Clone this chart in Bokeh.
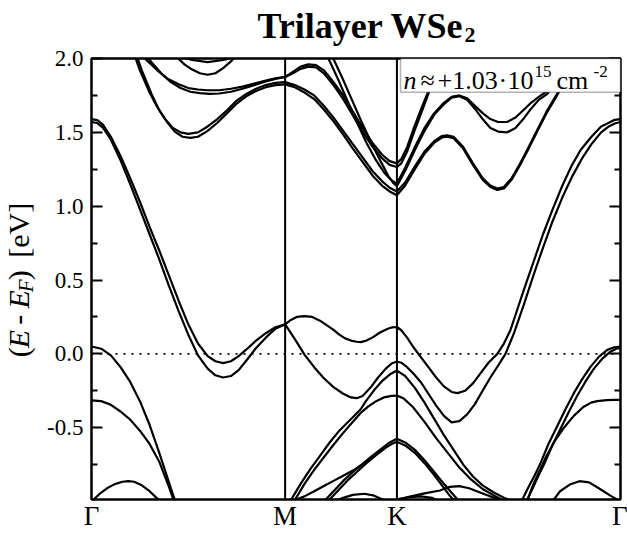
from bokeh.plotting import figure
from bokeh.layouts import column, row
from bokeh.models import (Range1d, FixedTicker, LinearAxis, Span, BoxAnnotation,
                          Label, PrintfTickFormatter, CustomJSTickFormatter)
from bokeh.core.properties import value
from bokeh.embed import file_html
from bokeh.resources import INLINE
import math

# ---------------- data ----------------
kpath_pos = [0.0, 1.0, 1.5774, 2.7321]
kpath_labels = ["Γ", "M", "K", "Γ"]
e_major = [-0.5, 0.0, 0.5, 1.0, 1.5, 2.0]
e_minor = [-0.75, -0.25, 0.25, 0.75, 1.25, 1.75]
e_min, e_max = -0.986, 2.0
fermi_level = 0.0
title_main, title_sub = "Trilayer WSe", "2"
ylabel_parts = ["(", "E", "-", "E", "F", ")", "[eV]"]
density_parts = ["n", "≈", "+1.03", "·", "10", "15", "cm", "-2"]

# bands as (k, E[eV])
A_u = [(0,1.59),(0.03,1.583),(0.06,1.55),(0.10,1.47),(0.15,1.34),(0.20,1.19),(0.25,1.03),(0.30,0.86),(0.35,0.70),(0.40,0.53),(0.45,0.36),(0.50,0.20),(0.55,0.07),(0.60,-0.015),(0.64,-0.05),(0.68,-0.063),(0.72,-0.05),(0.76,-0.015),(0.80,0.03),(0.85,0.09),(0.90,0.14),(0.95,0.18),(1.0,0.20)]
A_l = [(0,1.57),(0.03,1.563),(0.06,1.53),(0.10,1.45),(0.15,1.31),(0.20,1.15),(0.25,0.98),(0.30,0.81),(0.35,0.64),(0.40,0.46),(0.45,0.29),(0.50,0.13),(0.55,-0.01),(0.60,-0.10),(0.64,-0.145),(0.68,-0.16),(0.72,-0.15),(0.76,-0.11),(0.80,-0.045),(0.85,0.04),(0.90,0.11),(0.95,0.17),(1.0,0.20)]
B_l = [(0,0.05),(0.05,0.035),(0.10,-0.01),(0.15,-0.09),(0.20,-0.19),(0.25,-0.32),(0.30,-0.48),(0.35,-0.67),(0.40,-0.87),(0.44,-1.03)]
C_l = [(0,-0.315),(0.05,-0.32),(0.10,-0.345),(0.15,-0.39),(0.20,-0.445),(0.25,-0.52),(0.30,-0.61),(0.35,-0.73),(0.40,-0.90),(0.44,-1.05)]
D_l = [(0,-1.0),(0.04,-0.95),(0.08,-0.91),(0.12,-0.882),(0.16,-0.866),(0.19,-0.862),(0.22,-0.866),(0.26,-0.89),(0.30,-0.93),(0.34,-0.98),(0.37,-1.02)]
E_u = [(0.22,2.03),(0.25,1.92),(0.30,1.77),(0.34,1.67),(0.38,1.59),(0.42,1.53),(0.46,1.50),(0.50,1.49),(0.55,1.50),(0.60,1.54),(0.65,1.59),(0.70,1.65),(0.75,1.715),(0.80,1.76),(0.85,1.795),(0.90,1.82),(0.95,1.835),(1.0,1.84)]
E_l = [(0.23,2.03),(0.26,1.92),(0.31,1.76),(0.35,1.65),(0.39,1.57),(0.43,1.505),(0.47,1.47),(0.51,1.462),(0.55,1.47),(0.60,1.51),(0.65,1.565),(0.70,1.63),(0.75,1.695),(0.80,1.745),(0.85,1.78),(0.90,1.805),(0.95,1.82),(1.0,1.825)]
F_u = [(0.26,2.02),(0.30,1.97),(0.34,1.92),(0.39,1.865),(0.45,1.825),(0.50,1.80),(0.55,1.79),(0.60,1.785),(0.66,1.785),(0.72,1.795),(0.78,1.81),(0.84,1.83),(0.90,1.85),(0.95,1.865),(1.0,1.875)]
F_l = [(0.28,2.02),(0.32,1.96),(0.36,1.90),(0.41,1.84),(0.46,1.80),(0.51,1.775),(0.56,1.765),(0.61,1.76),(0.66,1.763),(0.72,1.775),(0.78,1.795),(0.84,1.82),(0.90,1.845),(0.95,1.862),(1.0,1.875)]
G_1 = [(0.44,2.01),(0.48,1.96),(0.52,1.925),(0.56,1.90),(0.60,1.89),(0.64,1.90),(0.68,1.935),(0.72,1.98),(0.74,2.01)]
G_2 = [(0.46,2.01),(0.52,1.99),(0.60,1.975),(0.68,1.99),(0.75,2.01)]
H_b = [(1.0,0.20),(1.03,0.23),(1.06,0.25),(1.10,0.256),(1.14,0.25),(1.18,0.225),(1.22,0.19),(1.25,0.162),(1.28,0.13),(1.31,0.105),(1.34,0.09),(1.37,0.082),(1.39,0.08),(1.42,0.09),(1.45,0.11),(1.49,0.145),(1.53,0.17),(1.555,0.18),(1.577,0.182),(1.60,0.16),(1.63,0.11),(1.66,0.05),(1.70,-0.02),(1.74,-0.09),(1.78,-0.16),(1.82,-0.22),(1.86,-0.258),(1.89,-0.266),(1.93,-0.25),(1.97,-0.20),(2.01,-0.13),(2.05,-0.06),(2.096,0.0),(2.13,0.07),(2.164,0.162),(2.194,0.28),(2.232,0.43),(2.282,0.62),(2.332,0.81),(2.382,0.98),(2.432,1.14),(2.482,1.28),(2.526,1.38),(2.582,1.47),(2.632,1.54),(2.672,1.565),(2.702,1.585),(2.732,1.59)]
I_b = [(1.0,0.20),(1.03,0.14),(1.06,0.08),(1.10,-0.005),(1.15,-0.09),(1.20,-0.165),(1.25,-0.225),(1.30,-0.27),(1.34,-0.295),(1.37,-0.30),(1.40,-0.285),(1.44,-0.23),(1.48,-0.16),(1.52,-0.10),(1.55,-0.065),(1.577,-0.052),(1.60,-0.06),(1.63,-0.09),(1.66,-0.13),(1.70,-0.19),(1.74,-0.27),(1.78,-0.35),(1.82,-0.42),(1.86,-0.464),(1.90,-0.455),(1.94,-0.41),(1.98,-0.34),(2.02,-0.25),(2.06,-0.16),(2.10,-0.08),(2.138,0.0),(2.16,0.07),(2.182,0.14),(2.232,0.33),(2.282,0.53),(2.332,0.72),(2.382,0.90),(2.432,1.06),(2.482,1.20),(2.532,1.32),(2.582,1.42),(2.632,1.50),(2.672,1.54),(2.702,1.56),(2.732,1.57)]
J_1 = [(1.03,-0.99),(1.08,-0.88),(1.13,-0.78),(1.18,-0.69),(1.23,-0.60),(1.28,-0.52),(1.33,-0.455),(1.36,-0.415),(1.39,-0.375),(1.42,-0.315),(1.46,-0.245),(1.50,-0.185),(1.54,-0.14),(1.577,-0.113),(1.62,-0.15),(1.67,-0.23),(1.72,-0.33),(1.77,-0.44),(1.82,-0.55),(1.87,-0.65),(1.92,-0.75),(1.97,-0.83),(2.02,-0.89),(2.08,-0.94),(2.14,-0.98),(2.18,-1.0)]
J_2 = [(1.05,-0.99),(1.10,-0.88),(1.15,-0.785),(1.20,-0.70),(1.25,-0.615),(1.30,-0.535),(1.35,-0.46),(1.39,-0.40),(1.43,-0.355),(1.47,-0.32),(1.51,-0.295),(1.55,-0.284),(1.577,-0.282),(1.61,-0.30),(1.66,-0.36),(1.72,-0.46),(1.78,-0.57),(1.84,-0.67),(1.90,-0.77),(1.96,-0.85),(2.02,-0.915),(2.08,-0.96),(2.14,-1.0)]
K_1 = [(1.20,-1.0),(1.25,-0.93),(1.30,-0.86),(1.35,-0.80),(1.40,-0.745),(1.45,-0.69),(1.50,-0.64),(1.54,-0.60),(1.577,-0.575),(1.62,-0.60),(1.67,-0.65),(1.72,-0.72),(1.77,-0.80),(1.82,-0.88),(1.86,-0.94),(1.90,-1.0)]
K_2 = [(1.22,-1.0),(1.27,-0.93),(1.32,-0.86),(1.37,-0.80),(1.42,-0.74),(1.47,-0.685),(1.52,-0.635),(1.55,-0.61),(1.577,-0.595),(1.62,-0.62),(1.67,-0.67),(1.72,-0.74),(1.77,-0.82),(1.81,-0.89),(1.85,-0.96),(1.88,-1.0)]
L_b = [(1.0,-1.0),(1.05,-0.99),(1.10,-0.965),(1.15,-0.93),(1.20,-0.895),(1.25,-0.86),(1.30,-0.825),(1.35,-0.79),(1.39,-0.756)]
M_b = [(1.25,-1.0),(1.30,-0.975),(1.35,-0.955),(1.41,-0.947),(1.46,-0.96),(1.50,-0.985),(1.53,-1.0)]
N_1 = [(1.577,-0.99),(1.65,-0.965),(1.72,-0.945),(1.80,-0.925),(1.85,-0.90),(1.90,-0.895),(1.95,-0.91),(2.02,-0.945),(2.10,-0.985),(2.13,-1.0)]
N_2 = [(1.577,-0.985),(1.64,-0.97),(1.70,-0.965),(1.76,-0.975),(1.80,-1.0)]
B_r = [(2.22,-1.0),(2.25,-0.92),(2.29,-0.82),(2.319,-0.74),(2.36,-0.61),(2.405,-0.49),(2.45,-0.37),(2.491,-0.266),(2.53,-0.18),(2.578,-0.086),(2.62,-0.02),(2.664,0.027),(2.70,0.045),(2.732,0.05)]
B_r2 = [(2.245,-1.0),(2.275,-0.92),(2.31,-0.82),(2.34,-0.74),(2.38,-0.62),(2.425,-0.50),(2.47,-0.38),(2.51,-0.28),(2.55,-0.19),(2.595,-0.10),(2.64,-0.03),(2.68,0.015),(2.71,0.035),(2.732,0.04)]
C_r = [(2.25,-1.0),(2.268,-0.93),(2.29,-0.86),(2.319,-0.78),(2.35,-0.69),(2.388,-0.60),(2.44,-0.50),(2.491,-0.42),(2.54,-0.36),(2.58,-0.33),(2.612,-0.32),(2.66,-0.313),(2.70,-0.311),(2.732,-0.311)]
D_r = [(2.38,-1.0),(2.42,-0.93),(2.47,-0.885),(2.52,-0.862),(2.57,-0.87),(2.62,-0.91),(2.68,-0.96),(2.732,-1.0)]
P_a = [(1.0,1.84),(1.05,1.82),(1.10,1.79),(1.15,1.75),(1.20,1.68),(1.25,1.60),(1.30,1.51),(1.35,1.42),(1.40,1.33),(1.45,1.24),(1.50,1.17),(1.54,1.125),(1.577,1.10),(1.62,1.16),(1.67,1.27),(1.72,1.37),(1.77,1.44),(1.81,1.475),(1.837,1.48),(1.87,1.47),(1.92,1.40),(1.97,1.29),(2.02,1.19),(2.06,1.14),(2.096,1.12),(2.13,1.13),(2.17,1.19),(2.21,1.28),(2.25,1.38),(2.30,1.51),(2.35,1.64),(2.40,1.75),(2.45,1.87),(2.50,2.0),(2.52,2.05)]
P_b = [(1.0,1.825),(1.05,1.805),(1.10,1.77),(1.15,1.725),(1.20,1.655),(1.25,1.575),(1.30,1.485),(1.35,1.39),(1.40,1.30),(1.45,1.21),(1.50,1.14),(1.54,1.10),(1.577,1.074),(1.62,1.14),(1.67,1.25),(1.72,1.355),(1.77,1.43),(1.81,1.465),(1.837,1.47),(1.87,1.46),(1.92,1.39),(1.97,1.28),(2.02,1.18),(2.06,1.13),(2.096,1.11),(2.13,1.12),(2.17,1.18),(2.21,1.27),(2.25,1.37),(2.30,1.50),(2.35,1.63),(2.40,1.74),(2.45,1.86),(2.50,1.99),(2.52,2.04)]
Q_a = [(1.0,1.875),(1.04,1.91),(1.08,1.945),(1.12,1.96),(1.16,1.955),(1.20,1.92),(1.25,1.84),(1.30,1.75),(1.35,1.64),(1.40,1.53),(1.45,1.43),(1.50,1.35),(1.54,1.305),(1.577,1.29),(1.60,1.32),(1.63,1.40),(1.665,1.53),(1.70,1.65),(1.734,1.76),(1.76,1.86),(1.786,1.97),(1.80,2.02)]
Q_b = [(1.0,1.875),(1.04,1.90),(1.08,1.93),(1.12,1.945),(1.16,1.94),(1.20,1.90),(1.25,1.82),(1.30,1.725),(1.35,1.615),(1.40,1.505),(1.45,1.405),(1.50,1.325),(1.54,1.28),(1.577,1.265),(1.60,1.29),(1.63,1.37),(1.665,1.50),(1.70,1.62),(1.734,1.74),(1.765,1.85),(1.79,1.95),(1.81,2.02)]
R_a = [(1.22,2.01),(1.27,1.87),(1.32,1.72),(1.37,1.57),(1.42,1.43),(1.47,1.31),(1.51,1.23),(1.545,1.18),(1.577,1.153),(1.62,1.26),(1.67,1.40),(1.72,1.53),(1.77,1.63),(1.82,1.70),(1.86,1.74),(1.90,1.75),(1.94,1.73),(1.98,1.68),(2.02,1.63),(2.06,1.59),(2.10,1.57),(2.147,1.57),(2.19,1.60),(2.23,1.65),(2.27,1.70),(2.31,1.74),(2.354,1.78),(2.40,1.85),(2.45,1.93),(2.50,2.02)]
R_b = [(1.245,2.01),(1.295,1.87),(1.345,1.72),(1.395,1.57),(1.445,1.43),(1.495,1.30),(1.535,1.20),(1.56,1.155),(1.577,1.135),(1.62,1.24),(1.67,1.38),(1.72,1.51),(1.77,1.62),(1.82,1.69),(1.86,1.735),(1.90,1.745),(1.94,1.72),(1.98,1.66),(2.02,1.59),(2.06,1.53),(2.10,1.505),(2.147,1.50),(2.19,1.53),(2.23,1.59),(2.27,1.66),(2.31,1.72),(2.354,1.76),(2.40,1.84),(2.45,1.92),(2.50,2.01)]

bands = [A_u, A_l, B_l, C_l, D_l, E_u, E_l, F_u, F_l, G_1, G_2, H_b, I_b, J_1, J_2,
         K_1, K_2, L_b, M_b, N_1, N_2, B_r, B_r2, C_r, D_r, P_a, P_b, Q_a, Q_b, R_a, R_b]

SERIF = "Liberation Serif"
PAGE_W, PAGE_H = 627, 533
TITLE_H = 46
YLAB_W = 40
FIX = 0.23   # observed baseline drift of rendered text, in em

# ---------------- main figure ----------------
p = figure(width=PAGE_W - YLAB_W, height=PAGE_H - TITLE_H,
           x_range=Range1d(kpath_pos[0], kpath_pos[-1]), y_range=Range1d(e_min, e_max),
           output_backend="svg", toolbar_location=None,
           min_border_left=51, min_border_right=7, min_border_top=12, min_border_bottom=33)
p.xgrid.visible = False
p.ygrid.visible = False
p.outline_line_color = "black"
p.outline_line_width = 2.5

xs = [[pt[0] for pt in b] for b in bands]
ys = [[pt[1] for pt in b] for b in bands]
p.multi_line(xs=xs, ys=ys, line_color="black", line_width=2.2)

xa = p.xaxis[0]
xa.ticker = FixedTicker(ticks=kpath_pos, minor_ticks=[])
xa.formatter = CustomJSTickFormatter(args=dict(pos=kpath_pos, labs=kpath_labels), code="""
    let best = 0;
    for (let i = 0; i < pos.length; i++) { if (Math.abs(pos[i] - tick) < 1e-6) best = i; }
    return labs[best];
""")
xa.major_tick_in = 0
xa.major_tick_out = 0
xa.axis_line_color = None
xa.major_label_text_font = SERIF
xa.major_label_text_font_size = "27px"
xa.major_label_text_color = "black"
xa.major_label_standoff = 1

ya = p.yaxis[0]
ya.ticker = FixedTicker(ticks=e_major, minor_ticks=e_minor)
ya.formatter = PrintfTickFormatter(format="%.1f")
ya.major_label_text_font = SERIF
ya.major_label_text_font_size = "23px"
ya.major_label_text_color = "black"
ya.major_label_standoff = 8
ya.axis_line_color = None
ya.major_tick_in = 11
ya.major_tick_out = 0
ya.minor_tick_in = 6
ya.minor_tick_out = 0
ya.major_tick_line_width = 2
ya.minor_tick_line_width = 2

ra = LinearAxis(ticker=FixedTicker(ticks=e_major, minor_ticks=e_minor),
                major_label_text_font_size="1px", major_label_text_color=None,
                major_label_standoff=0, axis_line_color=None,
                major_tick_in=11, major_tick_out=0, minor_tick_in=6, minor_tick_out=0,
                major_tick_line_width=2, minor_tick_line_width=2)
p.add_layout(ra, "right")

for kv in kpath_pos[1:3]:
    p.add_layout(Span(location=kv, dimension="height", line_color="black", line_width=2))
p.add_layout(Span(location=fermi_level, dimension="width", line_color="black",
                  line_width=1.6, line_dash="2 6"))

p.add_layout(BoxAnnotation(left=1.596, right=kpath_pos[-1], bottom=1.772, top=e_max,
                           fill_color="white", fill_alpha=1.0, line_color="black",
                           line_width=1.5))

def lab(text, px_, py_, size, style="normal"):
    # anchored at the frame's top-right corner (page px 620, 58)
    py_c = py_ - FIX * size
    p.add_layout(Label(x=kpath_pos[-1], y=e_max, x_offset=px_ - 620, y_offset=58 - py_c,
                       text=text, text_font=SERIF, text_font_size=f"{size}px",
                       text_font_style=style, text_color="black", text_align="left",
                       text_baseline="alphabetic"))

lab(density_parts[0], 403, 86, 26, "italic")
lab(density_parts[1], 420, 86, 26)
lab(density_parts[2], 437, 86, 26)
lab(density_parts[3], 498, 86, 26)
lab(density_parts[4], 507, 86, 26)
lab(density_parts[5], 534, 75, 17)
lab(density_parts[6], 556, 86, 26)
lab(density_parts[7], 593, 75, 17)

# ---------------- helper figures for text outside the frame ----------------
def blank(w, h):
    f = figure(width=w, height=h, x_range=Range1d(0, w), y_range=Range1d(0, h),
               output_backend="svg", toolbar_location=None, min_border=0,
               x_axis_location=None, y_axis_location=None)
    f.outline_line_color = None
    f.xgrid.visible = False
    f.ygrid.visible = False
    return f

tf = blank(PAGE_W, TITLE_H)
for t, px_, py_, sz in [(title_main, 257, 34, 36), (title_sub, 464, 40, 22)]:
    tf.text(x=[px_], y=[TITLE_H - (py_ - FIX * sz)], text=[t], text_font=value(SERIF),
            text_font_size=value(f"{sz}px"), text_font_style="bold", text_color="black",
            text_align="left", text_baseline="alphabetic")

yf = blank(YLAB_W, PAGE_H - TITLE_H)
A = math.pi / 2
# page y of each piece's start (text runs upward), baseline at page x 25
piece_y = [376, 366, 340, 322, 304, 291, 266]
piece_x = [25, 25, 25, 25, 30, 25, 25]
piece_size = [30, 30, 30, 30, 21, 30, 30]
piece_style = ["normal", "italic", "normal", "italic", "italic", "normal", "normal"]
for t, px_, py_, sz, st in zip(ylabel_parts, piece_x, piece_y, piece_size, piece_style):
    yf.text(x=[px_ - FIX * sz], y=[PAGE_H - py_], text=[t], angle=A, text_font=value(SERIF),
            text_font_size=value(f"{sz}px"), text_font_style=st, text_color="black",
            text_align="left", text_baseline="alphabetic")

layout = column(tf, row(yf, p, spacing=0), spacing=0)
open("out.html", "w").write(file_html(layout, INLINE))
